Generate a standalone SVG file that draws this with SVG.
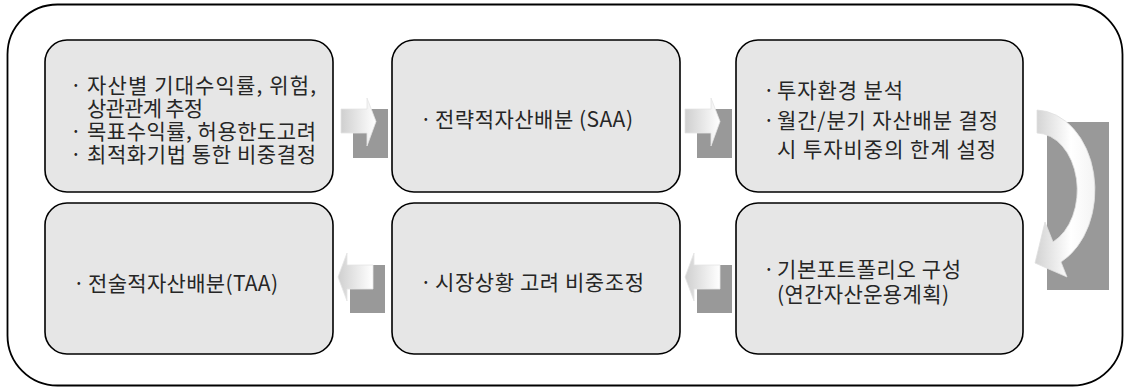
<svg xmlns="http://www.w3.org/2000/svg" width="1124" height="387" viewBox="0 0 1124 387">
<defs>
<linearGradient id="ag" x1="0" y1="0" x2="1" y2="0">
<stop offset="0" stop-color="#cfcfcf"/>
<stop offset="1" stop-color="#ffffff"/>
</linearGradient>
<linearGradient id="cg" x1="0" y1="0" x2="1" y2="0">
<stop offset="0" stop-color="#d2d2d2"/>
<stop offset="0.6" stop-color="#ffffff"/>
<stop offset="1" stop-color="#f4f4f4"/>
</linearGradient>
</defs>
<style>
.frame{fill:#fff;stroke:#000;stroke-width:1.8}
.box{fill:#e6e6e6;stroke:#000;stroke-width:1.6}
.shadow{fill:#999999}
.arr{fill:url(#ag);stroke:#e4e4e4;stroke-width:0.8}
.carr{fill:url(#cg);stroke:#e0e0e0;stroke-width:0.8}
text{font-family:"Noto Sans CJK KR","Noto Sans",sans-serif;font-size:21px;fill:#262626}
</style>
<rect class="frame" x="7.5" y="4.5" width="1115" height="381" rx="50" ry="50"/>
<g id="connectors">
<rect class="shadow" x="353" y="109" width="35" height="49"/>
<path class="arr" d="M341,109 H367 V98 L376,121.5 L367,146 V133 H341 Z"/>
<rect class="shadow" x="697" y="109" width="35" height="49"/>
<path class="arr" d="M685,109 H711 V98 L720,121.5 L711,146 V133 H685 Z"/>
<rect class="shadow" x="1047" y="122" width="62" height="168"/>
<path class="carr" d="M1037,110 A60,80 0 0 1 1061,262 L1067,277 L1035,263 L1045,222 L1053,242 A41,57 0 0 0 1037,133 Z"/>
<rect class="shadow" x="697" y="265" width="35" height="48"/>
<path class="arr" d="M720,265 H694 V253 L685,277 L694,301 V289 H720 Z"/>
<rect class="shadow" x="350" y="265" width="35" height="48"/>
<path class="arr" d="M373,265 H347 V253 L338,277 L347,301 V289 H373 Z"/>
</g>
<g id="node1">
<rect class="box" x="45" y="40" width="288" height="152" rx="22"/>
<text><tspan x="70" y="93">·</tspan><tspan x="87" y="93" textLength="229" lengthAdjust="spacing">자산별 기대수익률, 위험,</tspan><tspan x="87" y="115.5" textLength="116" lengthAdjust="spacing">상관관계 추정</tspan><tspan x="70" y="139">·</tspan><tspan x="87" y="139" textLength="229" lengthAdjust="spacing">목표수익률, 허용한도고려</tspan><tspan x="70" y="162">·</tspan><tspan x="87" y="162" textLength="229" lengthAdjust="spacing">최적화기법 통한 비중결정</tspan></text>
</g>
<g id="node2">
<rect class="box" x="392" y="40" width="288" height="152" rx="22"/>
<text><tspan x="420" y="127">·</tspan><tspan x="435" y="127" textLength="198" lengthAdjust="spacing">전략적자산배분 (SAA)</tspan></text>
</g>
<g id="node3">
<rect class="box" x="736" y="40" width="287" height="152" rx="22"/>
<text><tspan x="763" y="98">·</tspan><tspan x="777" y="98" textLength="126" lengthAdjust="spacing">투자환경 분석</tspan><tspan x="763" y="127.5">·</tspan><tspan x="777" y="127.5" textLength="221" lengthAdjust="spacing">월간/분기 자산배분 결정</tspan><tspan x="777" y="157" textLength="219" lengthAdjust="spacing">시 투자비중의 한계 설정</tspan></text>
</g>
<g id="node4">
<rect class="box" x="736" y="203" width="287" height="151" rx="22"/>
<text><tspan x="763" y="277">·</tspan><tspan x="777" y="277" textLength="184" lengthAdjust="spacing">기본포트폴리오 구성</tspan><tspan x="777" y="302" textLength="172" lengthAdjust="spacing">(연간자산운용계획)</tspan></text>
</g>
<g id="node5">
<rect class="box" x="392" y="203" width="288" height="151" rx="22"/>
<text><tspan x="420" y="290">·</tspan><tspan x="435" y="290" textLength="209" lengthAdjust="spacing">시장상황 고려 비중조정</tspan></text>
</g>
<g id="node6">
<rect class="box" x="45" y="203" width="288" height="151" rx="22"/>
<text><tspan x="73" y="291">·</tspan><tspan x="88" y="291" textLength="190" lengthAdjust="spacing">전술적자산배분(TAA)</tspan></text>
</g>
</svg>
